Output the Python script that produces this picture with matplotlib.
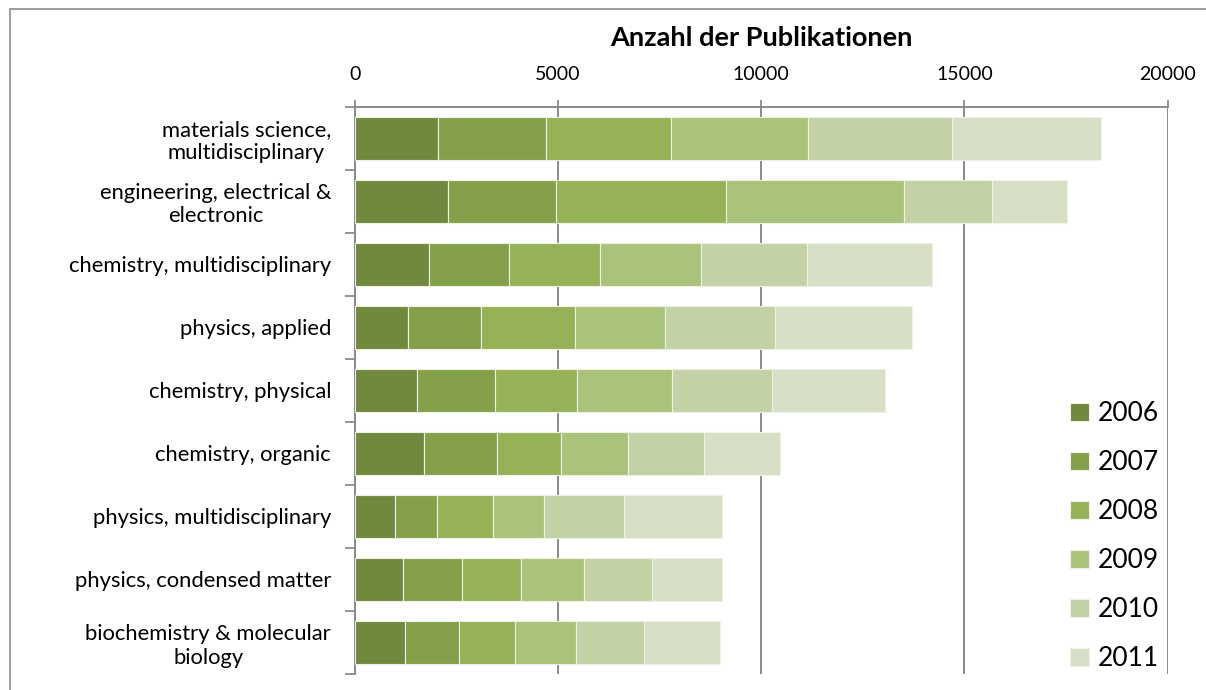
import numpy as np
import matplotlib
matplotlib.use('Agg')
import matplotlib.pyplot as plt
from matplotlib.patches import Rectangle

categories = [
    'materials science,\nmultidisciplinary',
    'engineering, electrical &\nelectronic',
    'chemistry, multidisciplinary',
    'physics, applied',
    'chemistry, physical',
    'chemistry, organic',
    'physics, multidisciplinary',
    'physics, condensed matter',
    'biochemistry & molecular\nbiology',
]
years = ['2006', '2007', '2008', '2009', '2010', '2011']

# publications per category and year
v2006 = [2060, 2305, 1830, 1320, 1535, 1715, 1000, 1195, 1240]
v2007 = [2635, 2635, 1955, 1775, 1905, 1775, 1025, 1455, 1335]
v2008 = [3080, 4205, 2260, 2315, 2035, 1595, 1370, 1445, 1380]
v2009 = [3365, 4360, 2465, 2235, 2335, 1650, 1265, 1550, 1495]
v2010 = [3545, 2165, 2610, 2685, 2445, 1855, 1970, 1675, 1675]
v2011 = [3670, 1865, 3070, 3390, 2790, 1865, 2395, 1705, 1865]
series = [v2006, v2007, v2008, v2009, v2010, v2011]

colors = ['#71893F', '#84A04B', '#96B257', '#AAC37A', '#C2D2A5', '#D7E0C6']
grid_color = '#8A8A8A'

plt.rcParams['font.family'] = ['Lato', 'DejaVu Sans']

fig = plt.figure(figsize=(12.06, 6.9), dpi=100)
ax = fig.add_axes([354.7 / 1206, 16 / 690, (1167.7 - 354.7) / 1206, (674 - 106.7) / 690])

y = np.arange(len(categories))
left = np.zeros(len(categories))
for vals, col, yr in zip(series, colors, years):
    ax.barh(y, vals, left=left, height=0.68, color=col, label=yr,
            edgecolor='#EEF2E6', linewidth=0.8, zorder=3)
    left += np.array(vals)

ax.set_xlim(0, 20000)
ax.set_ylim(len(categories) - 0.5, -0.5)
ax.set_xticks([0, 5000, 10000, 15000, 20000])
ax.xaxis.tick_top()
ax.xaxis.set_label_position('top')
ax.tick_params(axis='x', labelsize=14, length=5, color=grid_color, width=1.3, pad=12)
ax.set_xlabel('Anzahl der Publikationen', fontsize=19.5, fontweight='bold', labelpad=14.5)
ax.grid(axis='x', color=grid_color, linewidth=1.4, zorder=0)

ax.set_yticks(y)
ax.set_yticklabels(categories, fontsize=15.8, multialignment='center')
ax.set_yticks(np.arange(len(categories) + 1) - 0.5, minor=True)
ax.tick_params(axis='y', which='major', length=0, pad=17)
ax.tick_params(axis='y', which='minor', length=7, color=grid_color, width=1.3)

for s in ['right', 'bottom']:
    ax.spines[s].set_visible(False)
for s in ['left', 'top']:
    ax.spines[s].set_color(grid_color)
    ax.spines[s].set_linewidth(1.4)

leg = fig.legend(loc='upper left', bbox_to_anchor=(1057 / 1206, 1 - 388 / 690),
                 frameon=False, fontsize=19, handlelength=0.7, handleheight=0.7,
                 handletextpad=0.35, labelspacing=0.91, borderpad=0)

# outer chart border (cropped at right/bottom)
fig.patches.append(Rectangle((10 / 1206, -0.1), 1.2, 1 - 9 / 690 + 0.1,
                             transform=fig.transFigure, fill=False,
                             edgecolor='#8C8C8C', linewidth=1.2))

fig.savefig('out.png', dpi=100)
